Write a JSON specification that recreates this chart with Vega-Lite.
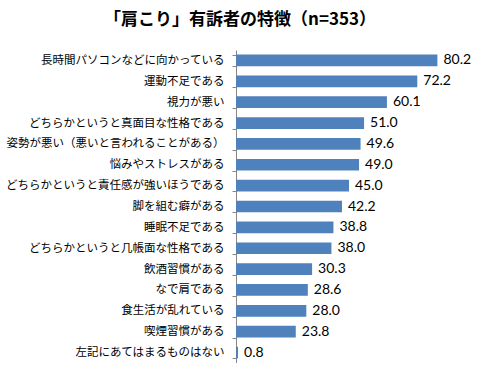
{
  "$schema": "https://vega.github.io/schema/vega-lite/v6.json",
  "autosize": "none",
  "padding": {"left": 236, "top": 50, "right": 30, "bottom": 0},
  "width": 226,
  "height": 313,
  "background": "white",
  "title": {
    "text": "「肩こり」有訴者の特徴（n=353）",
    "font": "Noto Sans CJK JP",
    "fontSize": 17,
    "fontWeight": "bold",
    "color": "black",
    "anchor": "middle",
    "frame": "group",
    "dx": -109,
    "offset": 15
  },
  "data": {
    "values": [
      {"item": "長時間パソコンなどに向かっている", "value": 80.2},
      {"item": "運動不足である", "value": 72.2},
      {"item": "視力が悪い", "value": 60.1},
      {"item": "どちらかというと真面目な性格である", "value": 51.0},
      {"item": "姿勢が悪い（悪いと言われることがある）", "value": 49.6},
      {"item": "悩みやストレスがある", "value": 49.0},
      {"item": "どちらかというと責任感が強いほうである", "value": 45.0},
      {"item": "脚を組む癖がある", "value": 42.2},
      {"item": "睡眠不足である", "value": 38.8},
      {"item": "どちらかというと几帳面な性格である", "value": 38.0},
      {"item": "飲酒習慣がある", "value": 30.3},
      {"item": "なで肩である", "value": 28.6},
      {"item": "食生活が乱れている", "value": 28.0},
      {"item": "喫煙習慣がある", "value": 23.8},
      {"item": "左記にあてはまるものはない", "value": 0.8}
    ]
  },
  "encoding": {
    "y": {
      "field": "item",
      "type": "nominal",
      "sort": null,
      "scale": {"paddingInner": 0.44, "paddingOuter": 0.22},
      "axis": {
        "title": null,
        "tickBand": "extent",
        "tickSize": 4,
        "tickColor": "#868686",
        "domainColor": "#868686",
        "labelFont": "Noto Sans CJK JP",
        "labelFontSize": 11.5,
        "labelColor": "black",
        "labelPadding": 8,
        "labelLimit": 300
      }
    },
    "x": {
      "field": "value",
      "type": "quantitative",
      "scale": {"domain": [0, 90]},
      "axis": null
    }
  },
  "layer": [
    {"mark": {"type": "bar", "color": "#4F81BD"}},
    {
      "mark": {"type": "text", "align": "left", "dx": 6, "font": "Lato", "fontSize": 14, "color": "black"},
      "encoding": {"text": {"field": "value", "type": "quantitative", "format": ".1f"}}
    }
  ],
  "config": {"view": {"stroke": null}}
}
